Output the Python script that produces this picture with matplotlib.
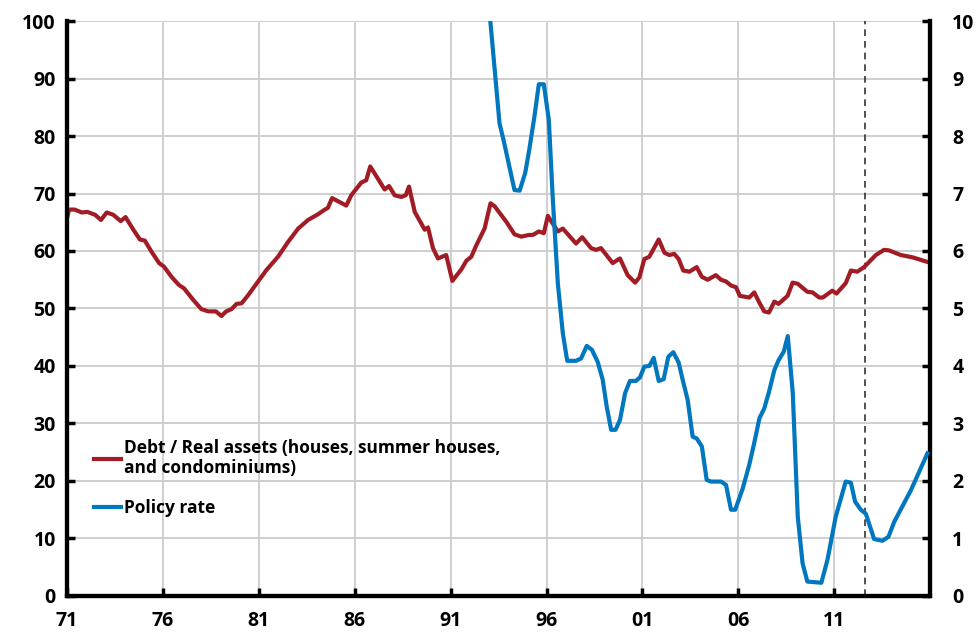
import matplotlib.pyplot as plt

plt.rcParams['font.family'] = ['Open Sans', 'DejaVu Sans']
plt.rcParams['font.weight'] = 'bold'

# Debt / real assets, left axis (per cent)
debt_t = [1971.0, 1971.1, 1971.4, 1971.77, 1972.06, 1972.46, 1972.77, 1973.07, 1973.41, 1973.8,
          1974.05, 1974.42, 1974.8, 1975.06, 1975.4, 1975.8, 1976.05, 1976.45, 1976.83, 1977.1,
          1977.58, 1978.0, 1978.36, 1978.76, 1979.05, 1979.3, 1979.58, 1979.84, 1980.1, 1980.44,
          1980.96, 1981.4, 1982.0, 1982.53, 1983.05, 1983.57, 1984.09, 1984.44, 1984.6, 1984.82,
          1985.56, 1985.82, 1986.34, 1986.6, 1986.81, 1987.3, 1987.56, 1987.79, 1988.08, 1988.43,
          1988.66, 1988.83, 1989.13, 1989.65, 1989.82, 1990.08, 1990.34, 1990.77, 1991.09, 1991.56,
          1991.82, 1992.08, 1992.34, 1992.77, 1993.08, 1993.29, 1993.9, 1994.33, 1994.68, 1995.1,
          1995.29, 1995.6, 1995.86, 1996.07, 1996.59, 1996.85, 1997.54, 1997.86, 1998.32, 1998.58,
          1998.84, 1999.45, 1999.83, 2000.23, 2000.62, 2000.84, 2001.1, 2001.36, 2001.85, 2002.15,
          2002.4, 2002.66, 2002.89, 2003.13, 2003.45, 2003.83, 2004.1, 2004.4, 2004.83, 2005.1,
          2005.36, 2005.62, 2005.88, 2006.08, 2006.57, 2006.83, 2007.1, 2007.35, 2007.6, 2007.88,
          2008.1, 2008.57, 2008.83, 2009.1, 2009.6, 2009.87, 2010.22, 2010.4, 2010.9, 2011.12,
          2011.6, 2011.87, 2012.2, 2012.56, 2013.17, 2013.6, 2013.86, 2014.47, 2015.08, 2015.86]
debt_v = [65.7, 67.2, 67.2, 66.7, 66.8, 66.3, 65.4, 66.7, 66.3, 65.2,
          65.9, 63.9, 62.0, 61.8, 59.9, 57.9, 57.3, 55.5, 54.1, 53.5,
          51.5, 49.9, 49.5, 49.5, 48.7, 49.5, 49.9, 50.8, 50.9, 52.3,
          54.7, 56.7, 59.0, 61.6, 63.9, 65.4, 66.4, 67.2, 67.5, 69.2,
          67.9, 69.7, 71.9, 72.3, 74.7, 72.1, 70.7, 71.3, 69.7, 69.4,
          69.7, 71.2, 66.8, 63.7, 64.1, 60.5, 58.7, 59.3, 54.8, 56.8,
          58.3, 59.0, 61.0, 63.9, 68.3, 67.8, 65.1, 62.9, 62.5, 62.8,
          62.8, 63.4, 63.1, 66.1, 63.4, 63.9, 61.3, 62.4, 60.5, 60.2,
          60.5, 57.9, 58.7, 55.8, 54.5, 55.4, 58.6, 59.0, 62.0, 59.7,
          59.3, 59.5, 58.6, 56.6, 56.4, 57.2, 55.5, 55.0, 55.8, 55.0,
          54.7, 54.0, 53.7, 52.2, 51.9, 52.8, 51.0, 49.5, 49.3, 51.2,
          50.8, 52.2, 54.5, 54.3, 52.9, 52.8, 51.9, 51.9, 53.1, 52.6,
          54.4, 56.6, 56.4, 57.2, 59.3, 60.2, 60.1, 59.3, 58.9, 58.1]

# Policy rate, right axis (per cent)
rate_t = [1992.8, 1993.07, 1993.55, 1993.76, 1994.33, 1994.6, 1994.89, 1995.1, 1995.37, 1995.6,
          1995.86, 1996.12, 1996.33, 1996.59, 1996.85, 1997.08, 1997.54, 1997.8, 1998.1, 1998.37,
          1998.67, 1998.93, 1999.14, 1999.37, 1999.6, 1999.83, 2000.1, 2000.35, 2000.66, 2000.87,
          2001.1, 2001.36, 2001.59, 2001.85, 2002.11, 2002.35, 2002.61, 2002.89, 2003.1, 2003.36,
          2003.62, 2003.83, 2004.1, 2004.35, 2004.57, 2005.1, 2005.36, 2005.62, 2005.84, 2006.23,
          2006.57, 2006.83, 2007.1, 2007.35, 2007.6, 2007.88, 2008.1, 2008.37, 2008.58, 2008.84,
          2009.1, 2009.35, 2009.6, 2010.33, 2010.65, 2011.08, 2011.6, 2011.87, 2012.09, 2012.39,
          2012.65, 2013.08, 2013.52, 2013.83, 2014.13, 2015.0, 2015.86]
rate_v = [12.9, 10.0, 8.22, 7.93, 7.06, 7.05, 7.36, 7.76, 8.34, 8.9,
          8.9, 8.28, 6.89, 5.44, 4.57, 4.09, 4.09, 4.13, 4.35, 4.28,
          4.07, 3.76, 3.29, 2.89, 2.89, 3.06, 3.53, 3.74, 3.74, 3.80,
          3.99, 4.0, 4.14, 3.74, 3.77, 4.16, 4.24, 4.06, 3.76, 3.41,
          2.77, 2.74, 2.6, 2.02, 1.99, 1.99, 1.93, 1.5, 1.5, 1.87,
          2.28, 2.66, 3.09, 3.26, 3.55, 3.93, 4.10, 4.25, 4.52, 3.53,
          1.38, 0.57, 0.25, 0.23, 0.63, 1.38, 1.99, 1.97, 1.64, 1.5,
          1.43, 0.99, 0.96, 1.03, 1.29, 1.84, 2.48]

tick_years = [1971, 1976, 1981, 1986, 1991, 1996, 2001, 2006, 2011]
tick_labels = ['71', '76', '81', '86', '91', '96', '01', '06', '11']
forecast_start = 2012.6

red = '#A21C26'
blue = '#0077BE'

fig = plt.figure(figsize=(9.77, 6.33), dpi=100)
ax = fig.add_axes([0.0686, 0.0585, 0.8834, 0.9083])
ax2 = ax.twinx()

ax.plot(debt_t, debt_v, color=red, lw=3, zorder=3,
        label='Debt / Real assets (houses, summer houses,\nand condominiums)')
ax2.plot(rate_t, rate_v, color=blue, lw=3, zorder=3, label='Policy rate')
ax.axvline(forecast_start, color='#333333', lw=1.2, ls=(0, (4, 3)), zorder=2)

ax.set_xlim(1971, 2016)
ax.set_ylim(0, 100)
ax2.set_ylim(0, 10)
ax.set_yticks(range(0, 101, 10))
ax2.set_yticks(range(0, 11, 1))
ax.set_xticks(tick_years)
ax.set_xticklabels(tick_labels)

ax.grid(True, color='#CCCCCC', lw=1.3)
ax.set_axisbelow(True)

for a in (ax, ax2):
    a.spines['top'].set_visible(False)
    for s in ('left', 'right', 'bottom'):
        a.spines[s].set_linewidth(3)
    a.tick_params(direction='in', length=6, width=2.5, labelsize=14, pad=8)
ax.tick_params(axis='x', pad=10.5)
ax2.tick_params(axis='y', pad=16)

h1, l1 = ax.get_legend_handles_labels()
h2, l2 = ax2.get_legend_handles_labels()
ax2.legend(h1 + h2, l1 + l2, loc='lower left', bbox_to_anchor=(0.013, 0.11),
           frameon=False, fontsize=12.5, handlelength=1.55, handletextpad=0.2,
           labelspacing=1.25)

fig.savefig('out.png', dpi=100)
